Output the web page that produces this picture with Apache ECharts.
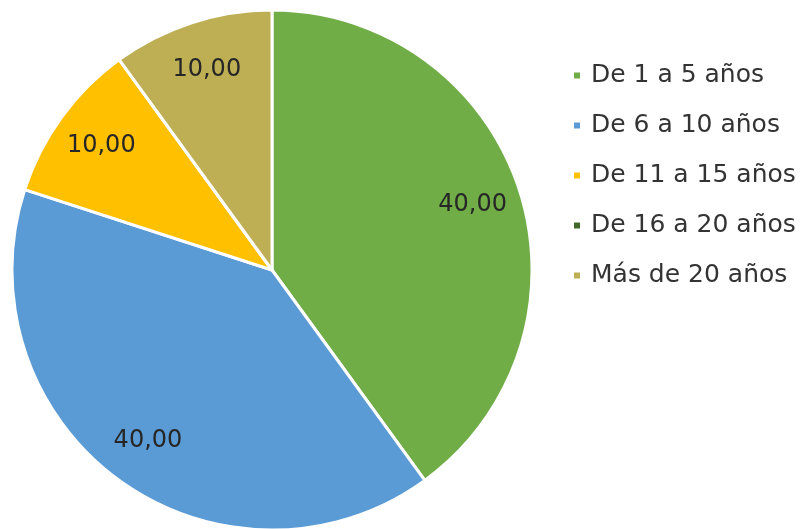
<!DOCTYPE html>
<html>
<head>
<meta charset="utf-8">
<script src="https://cdn.jsdelivr.net/npm/echarts@6/dist/echarts.min.js"></script>
<style>
  html, body { margin: 0; padding: 0; background: #fff; }
  #chart { width: 802px; height: 529px; }
</style>
</head>
<body>
<div id="chart"></div>
<script>
const categories = ['De 1 a 5 años', 'De 6 a 10 años', 'De 11 a 15 años', 'De 16 a 20 años', 'Más de 20 años'];
const values = [40, 40, 10, 0, 10];
const colors = ['#70AD47', '#5B9BD5', '#FFC000', '#43682B', '#BEAF55'];

const fmt = (v) => v.toFixed(2).replace('.', ',');

const chart = echarts.init(document.getElementById('chart'));

const center = [272, 270];
const radius = 260;

chart.setOption({
  animation: false,
  color: colors,
  legend: {
    orient: 'vertical',
    left: 572,
    top: 63,
    padding: 0,
    icon: 'rect',
    itemWidth: 8,
    itemHeight: 8,
    itemGap: 25,
    data: categories,
    textStyle: {
      fontFamily: 'DejaVu Sans',
      fontSize: 25,
      lineHeight: 25,
      color: '#333333',
      padding: [0, 0, 0, 5]
    }
  },
  series: [
    {
      type: 'pie',
      center,
      radius,
      startAngle: 90,
      silent: true,
      label: { show: false },
      labelLine: { show: false },
      itemStyle: { borderColor: '#fff', borderWidth: 3 },
      data: categories.map((name, i) => ({ name, value: values[i] }))
    },
    {
      // transparent ring only used to place the value labels at ~0.8 radius
      type: 'pie',
      center,
      radius: [156, radius],
      startAngle: 90,
      silent: true,
      legendHoverLink: false,
      avoidLabelOverlap: false,
      itemStyle: { color: 'rgba(0,0,0,0)', borderWidth: 0 },
      label: {
        show: true,
        position: 'inside',
        fontFamily: 'DejaVu Sans',
        fontSize: 24,
        color: '#262626',
        formatter: (p) => (p.value ? fmt(p.value) : '')
      },
      labelLine: { show: false },
      data: categories.map((name, i) => ({ name, value: values[i] }))
    }
  ]
});
</script>
</body>
</html>
